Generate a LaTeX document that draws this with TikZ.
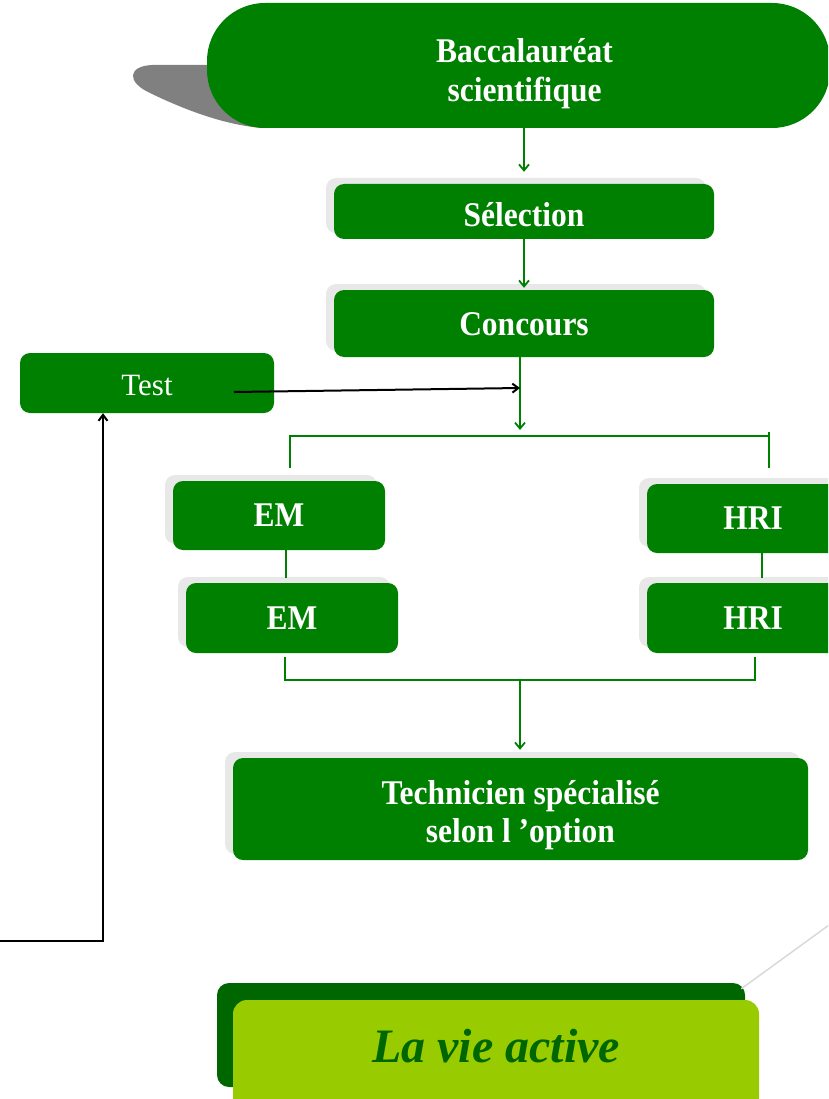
\documentclass[tikz,border=0pt]{standalone}
\usepackage{fontspec}
\usepackage{graphicx}
\setmainfont{Liberation Serif}
\usetikzlibrary{arrows.meta,shadows}
\definecolor{G}{HTML}{008000}
\definecolor{DG}{HTML}{006600}
\definecolor{LG}{HTML}{99CC00}
\definecolor{SH}{HTML}{E8E8E8}
\definecolor{BSH}{HTML}{808080}
\definecolor{GL}{HTML}{D9D9D9}
\newcommand{\stt}[1]{\scalebox{1}[1.1]{#1}}
\newcommand{\twol}[2]{\stt{\begin{tabular}{@{}c@{}}#1\\#2\end{tabular}}}
\begin{document}
\begin{tikzpicture}[x=1pt,y=-1pt,
  gbox/.style={fill=G, rounded corners=10pt, inner sep=0pt},
  gt/.style={text=white, align=center, inner sep=0pt,
    font=\bfseries\fontsize{31.5}{35}\selectfont},
  shad/.style={drop shadow={shadow xshift=-8pt, shadow yshift=6pt, fill=SH, opacity=1}},
  gline/.style={draw=G, line width=1.8pt},
  garr/.style={draw=G, line width=1.8pt, -{Straight Barb[length=6pt,width=10pt]}},
  barr/.style={draw=black, line width=2pt, -{Straight Barb[length=6pt,width=9pt]}},
]
\useasboundingbox (0,0) rectangle (828,1099);
\clip (0,0) rectangle (828,1099);

% shadow swoosh of the top box
\fill[BSH] (215,65) -- (152,65) .. controls (128,66) and (126,82) .. (150,93)
  .. controls (185,110) and (225,125) .. (262,128) -- cycle;

% boxes
\node[gbox, rounded corners=58pt, minimum width=623pt, minimum height=125pt,
  label={[gt, xshift=6pt, yshift=-9pt]center:\twol{Baccalauréat}{scientifique}}] (bac) at (518.5,65.5) {};
\node[gbox, shad, minimum width=380pt, minimum height=55pt,
  label={[gt, yshift=-3pt]center:\stt{Sélection}}] (sel) at (524,211.5) {};
\node[gbox, shad, minimum width=380pt, minimum height=67pt,
  label={[gt, yshift=-1pt]center:\stt{Concours}}] (conc) at (524,323.5) {};
\node[gbox, minimum width=254pt, minimum height=60pt,
  label={[gt, font=\fontsize{31}{36}\selectfont, yshift=-3pt]center:Test}] (test) at (147,383) {};
\node[gbox, shad, minimum width=212pt, minimum height=69pt,
  label={[gt]center:\stt{EM}}] (em1) at (279,515.5) {};
\node[gbox, shad, minimum width=212pt, minimum height=70pt,
  label={[gt]center:\stt{EM}}] (em2) at (292,618) {};
\node[gbox, shad, minimum width=212pt, minimum height=69pt,
  label={[gt]center:\stt{HRI}}] (hri1) at (753,518.5) {};
\node[gbox, shad, minimum width=212pt, minimum height=70pt,
  label={[gt]center:\stt{HRI}}] (hri2) at (753,618) {};
\node[gbox, shad, minimum width=575pt, minimum height=102pt,
  label={[gt, yshift=-7pt]center:\twol{Technicien spécialisé}{selon l ’option}}] (tech) at (520.5,809) {};

% gray thin connector to the final boxes
\coordinate (gfar) at (840,917);
\node[fill=DG, rounded corners=12pt, minimum width=528pt, minimum height=104pt, inner sep=0pt] (vieback) at (481,1035) {};
\draw[GL, line width=1.5pt] ([xshift=-4pt,yshift=-6pt]vieback.north east) -- (gfar);
\node[fill=LG, rounded corners=14pt, minimum width=526pt, minimum height=112pt, inner sep=0pt] (viefront) at (496,1056) {};
\node[text=DG, font=\bfseries\itshape\fontsize{48}{58}\selectfont, inner sep=0pt] (vie) at (496,1046) {La vie active};

% green flow
\draw[garr] (bac.south -| sel.north) -- ([yshift=12pt]sel.north);
\draw[garr] (sel.south) -- ([yshift=2pt]conc.north);
\coordinate (split) at (520,436);
\coordinate (join1) at (520,388);
\draw[garr] (conc.south -| split) -- ([yshift=6pt]split);

% black test arrow
\coordinate (testout) at (234,392);
\draw[barr] (testout) -- (join1);

% upper bracket
\coordinate (bl) at (290,436);
\coordinate (br) at (769,436);
\coordinate (bltop) at (290,468);
\coordinate (brtop1) at (769,432);
\coordinate (brtop2) at (769,468);
\draw[gline] (bltop) -- (bl) -- (br);
\draw[gline] (brtop1) -- (brtop2);

% links between stacked boxes
\coordinate (emlinkA) at (286,550);
\coordinate (emlinkB) at (286,578);
\coordinate (hrilinkA) at (762,553);
\coordinate (hrilinkB) at (762,578);
\draw[gline] (emlinkA) -- (emlinkB);
\draw[gline] (hrilinkA) -- (hrilinkB);

% lower bracket
\coordinate (ll) at (285,680);
\coordinate (lr) at (755,680);
\coordinate (lm) at (520,680);
\coordinate (llt) at (285,657);
\coordinate (lrt) at (755,657);
\draw[gline] (llt) -- (ll) -- (lr) -- (lrt);
\draw[garr] (lm) -- ([yshift=8pt]tech.north -| lm);

% black return line to Test
\coordinate (retstart) at (0,941);
\coordinate (retcorner) at (103,941);
\draw[barr] (retstart) -- (retcorner) -- (retcorner |- test.south);
\end{tikzpicture}
\end{document}
